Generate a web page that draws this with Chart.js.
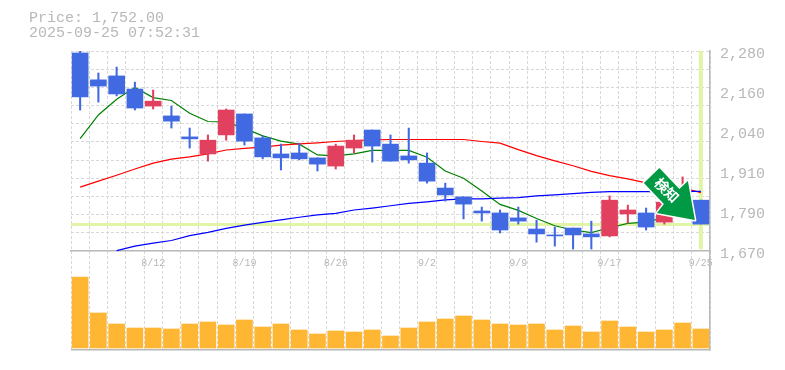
<!DOCTYPE html>
<html>
<head>
<meta charset="utf-8">
<style>
    html, body { margin: 0; padding: 0; background: #fff; }
    canvas { display: block; }
</style>
<script src="https://cdn.jsdelivr.net/npm/chart.js@4"></script>
</head>
<body>
<canvas id="stockChart" width="785" height="370"></canvas>
<script>
const titleLines = ['Price: 1,752.00', '2025-09-25 07:52:31'];
const dates = ['', '', '', '', '8/12', '', '', '', '', '8/19', '', '', '', '', '8/26', '', '', '', '', '9/2', '', '', '', '', '9/9', '', '', '', '', '9/17', '', '', '', '', '9/25'];

const opens = [2274, 2192, 2204, 2164, 2112, 2082, 2018, 1966, 2024, 2088, 2015, 1966, 1969, 1954, 1929, 1984, 2039, 1996, 1960, 1938, 1862, 1835, 1792, 1786, 1771, 1737, 1719, 1740, 1722, 1716, 1783, 1786, 1758, 1810, 1825];
const closes = [2140, 2173, 2149, 2106, 2127, 2066, 2012, 2008, 2100, 2005, 1957, 1954, 1951, 1935, 1990, 2008, 1990, 1944, 1948, 1883, 1841, 1813, 1786, 1734, 1761, 1722, 1716, 1719, 1713, 1825, 1795, 1743, 1819, 1841, 1752];
const highs = [2280, 2213, 2231, 2185, 2161, 2112, 2045, 2024, 2103, 2088, 2021, 1996, 1999, 1954, 1996, 2024, 2039, 2024, 2045, 1969, 1877, 1835, 1804, 1795, 1804, 1764, 1743, 1740, 1761, 1838, 1810, 1801, 1825, 1896, 1825];
const lows = [2100, 2124, 2143, 2100, 2103, 2045, 1984, 1944, 2008, 1993, 1951, 1917, 1948, 1914, 1920, 1969, 1941, 1944, 1938, 1877, 1822, 1768, 1761, 1725, 1752, 1697, 1685, 1676, 1676, 1713, 1755, 1734, 1752, 1795, 1752];

const maShort = [2013, 2085, 2133, 2169, 2138, 2129, 2090, 2065, 2064, 2044, 2021, 2005, 1996, 1963, 1960, 1966, 1977, 1977, 1977, 1956, 1914, 1892, 1853, 1812, 1794, 1769, 1747, 1734, 1726, 1741, 1754, 1758, 1772, 1785, 1795];
const maMid = [1865, 1883, 1901, 1920, 1938, 1950, 1957, 1966, 1978, 1983, 1987, 1993, 1997, 2000, 2004, 2007, 2009, 2010, 2010, 2010, 2010, 2010, 2004, 1999, 1979, 1961, 1945, 1930, 1913, 1900, 1890, 1878, 1871, 1863, 1848];
const maLong = [null, null, 1671, 1685, 1694, 1702, 1717, 1727, 1739, 1749, 1757, 1765, 1773, 1780, 1785, 1795, 1801, 1808, 1815, 1820, 1826, 1829, 1829, 1831, 1833, 1838, 1841, 1845, 1849, 1851, 1851, 1851, 1851, 1852, 1852];

const volumes = [71, 35, 24, 20, 20, 19, 24, 26, 23, 28, 21, 24, 18, 14, 17, 16, 18, 12, 20, 26, 29, 32, 28, 24, 23, 24, 18, 22, 16, 27, 21, 16, 18, 25, 19];

const priceTicks = [2280, 2158, 2036, 1914, 1792, 1670];
const priceLabels = ['2,280', '2,160', '2,040', '1,910', '1,790', '1,670'];
const priceGrid = [2280, 2225, 2169, 2114, 2058, 2003, 1947, 1892, 1836, 1781, 1752, 1725, 1670, 1368];
const lastPrice = 1752;

const UP = '#e2405f';
const DOWN = '#4169e1';
const GREY = '#b8b8b8';
const GRID = '#d8d8d8';
const HIGHLIGHT = '#e2f5a6';
const MONO = '"Liberation Mono", monospace';

const candleColors = closes.map((c, i) => (c >= opens[i] ? UP : DOWN));

// detection arrow, sits on the last candle
const arrowShape = [[-41.5, -56], [-57, -41], [-37, -20], [-44, -11], [-6, -4], [-13, -43], [-21.5, -35]];

const arrowPlugin = {
    id: 'arrowMark',
    afterDatasetsDraw(chart) {
        const { ctx, scales } = chart;
        const ax = scales.x.getPixelForValue(dates.length - 1);
        const ay = scales.y.getPixelForValue(lastPrice);
        ctx.save();
        ctx.translate(ax, ay);
        ctx.beginPath();
        arrowShape.forEach((p, i) => (i ? ctx.lineTo(p[0], p[1]) : ctx.moveTo(p[0], p[1])));
        ctx.closePath();
        ctx.lineJoin = 'round';
        ctx.lineWidth = 3;
        ctx.strokeStyle = '#ffffff';
        ctx.stroke();
        ctx.fillStyle = '#009944';
        ctx.fill();
        ctx.translate(-34, -34);
        ctx.rotate(Math.PI / 4);
        ctx.fillStyle = '#ffffff';
        ctx.font = 'bold 14px "Noto Sans CJK JP"';
        ctx.textAlign = 'center';
        ctx.textBaseline = 'middle';
        ctx.fillText('検知', 0, 0);
        ctx.restore();
    }
};

const lineSet = (data, color) => ({
    type: 'line',
    data: data,
    borderColor: color,
    borderWidth: 1.2,
    pointRadius: 0,
    tension: 0,
    spanGaps: false,
    order: 3,
    yAxisID: 'y'
});

new Chart(document.getElementById('stockChart').getContext('2d'), {
    data: {
        labels: dates,
        datasets: [
            {
                type: 'bar',
                data: volumes,
                backgroundColor: '#ffb733',
                barThickness: 16,
                grouped: false,
                order: 6,
                yAxisID: 'yVol'
            },
            {
                // vertical marker on the latest session
                type: 'bar',
                data: dates.map((d, i) => (i === dates.length - 1 ? [1676, 2280] : null)),
                backgroundColor: HIGHLIGHT,
                barThickness: 3.5,
                grouped: false,
                order: 5,
                yAxisID: 'y'
            },
            lineSet(maLong, '#0000ff'),
            lineSet(maMid, '#ff0000'),
            lineSet(maShort, '#008000'),
            {
                type: 'bar',
                data: highs.map((h, i) => [lows[i], h]),
                backgroundColor: candleColors,
                barThickness: 1.4,
                grouped: false,
                order: 2,
                yAxisID: 'y'
            },
            {
                type: 'bar',
                data: opens.map((o, i) => [o, closes[i]]),
                backgroundColor: candleColors,
                barThickness: 16,
                grouped: false,
                order: 1,
                yAxisID: 'y'
            }
        ]
    },
    options: {
        responsive: false,
        animation: false,
        layout: { padding: { left: 29, right: 0, top: 11, bottom: 20 } },
        plugins: {
            legend: { display: false },
            tooltip: { enabled: false },
            title: {
                display: true,
                text: titleLines,
                align: 'start',
                color: GREY,
                font: { family: MONO, size: 15, weight: 'normal', lineHeight: 1 },
                padding: { top: 0, bottom: 10 }
            }
        },
        scales: {
            x: {
                type: 'category',
                position: { y: 1670 },
                grid: {
                    offset: true,
                    color: GRID,
                    drawTicks: false
                },
                border: { color: GREY, width: 1.5, dash: [3, 2] },
                ticks: {
                    autoSkip: false,
                    maxRotation: 0,
                    color: GREY,
                    padding: 6,
                    font: { family: MONO, size: 10 }
                }
            },
            y: {
                position: 'right',
                min: 1368,
                max: 2280,
                afterFit(scale) { scale.width = 75; },
                afterBuildTicks(scale) {
                    // labels sit about 2px under their real height
                    scale.ticks = priceTicks.map(v => ({ value: v - 8 }));
                },
                grid: { display: false, drawTicks: false },
                border: { display: true, color: GREY, width: 1.5 },
                ticks: {
                    autoSkip: false,
                    color: GREY,
                    padding: 10,
                    font: { family: MONO, size: 15 },
                    callback: (v, i) => priceLabels[i]
                }
            },
            yGrid: {
                position: 'left',
                min: 1368,
                max: 2280,
                afterFit(scale) { scale.width = 42; },
                afterBuildTicks(scale) {
                    scale.ticks = priceGrid.map(v => ({ value: v }));
                },
                grid: {
                    drawTicks: false,
                    color: ctx => {
                        const v = ctx.tick.value;
                        if (v === lastPrice) return HIGHLIGHT;
                        if (v === 1368) return GREY;
                        return GRID;
                    },
                    lineWidth: ctx => {
                        const v = ctx.tick.value;
                        if (v === lastPrice) return 3;
                        return v === 1368 ? 1.5 : 1;
                    }
                },
                border: {
                    display: false,
                    dash: ctx => {
                        const v = ctx.tick ? ctx.tick.value : 0;
                        return v === lastPrice || v === 1368 ? [] : [3, 2];
                    }
                },
                ticks: { display: false }
            },
            yVol: {
                display: false,
                min: -2,
                max: 297
            }
        }
    },
    plugins: [arrowPlugin]
});
</script>
</body>
</html>
